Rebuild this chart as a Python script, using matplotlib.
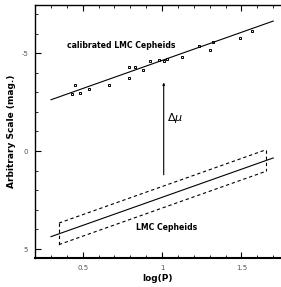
import matplotlib

matplotlib.use('Agg')
import matplotlib.pyplot as plt
from matplotlib.ticker import MultipleLocator

# calibrated LMC Cepheids (log P, magnitude)
cal_logp = [0.434, 0.449, 0.485, 0.542, 0.666, 0.789, 0.791, 0.827, 0.880, 0.922,
            0.978, 1.010, 1.032, 1.128, 1.234, 1.301, 1.323, 1.491, 1.567]
cal_mag = [-2.89, -3.35, -2.94, -3.16, -3.35, -3.71, -4.27, -4.30, -4.15, -4.58,
           -4.66, -4.59, -4.68, -4.81, -5.34, -5.17, -5.55, -5.77, -6.14]

# fitted PL relations: mag = zp + slope * logP
upper_range = [0.30, 1.70]
upper_zp = -1.76
slope = -2.87
lower_range = [0.30, 1.70]
lower_zp = 5.23
band_range = [0.35, 1.654]
band_width = 0.55

# distance modulus arrow (logP, mag from, mag to)
arrow_x = 1.01
arrow_from = 1.21
arrow_to = -3.5

fig = plt.figure(figsize=(2.81, 2.87), dpi=100)
ax = fig.add_axes([0.125, 0.101, 0.87, 0.881])

ax.plot(cal_logp, cal_mag, 's', ms=1.8, mfc='none', mec='black', mew=0.7)
ax.plot(upper_range, [upper_zp + slope * x for x in upper_range], color='black', lw=0.8)

ax.plot(lower_range, [lower_zp + slope * x for x in lower_range], color='black', lw=0.8)
for off in (-band_width, band_width):
    ax.plot(band_range, [lower_zp + off + slope * x for x in band_range],
            color='black', lw=0.8, ls=(0, (3, 2.5)))
for x in band_range:
    m = lower_zp + slope * x
    ax.plot([x, x], [m - band_width, m + band_width], color='black', lw=0.8, ls=(0, (3, 2.5)))

ax.annotate('', xy=(arrow_x, arrow_to), xytext=(arrow_x, arrow_from),
            arrowprops=dict(arrowstyle='-|>', color='black', lw=0.8,
                            mutation_scale=3, shrinkA=0, shrinkB=0))
ax.text(arrow_x + 0.02, -1.7, r'$\Delta\mu$', fontsize=8, va='center', ha='left')

ax.text(0.40, -5.4, 'calibrated LMC Cepheids', fontsize=5.6, fontweight='bold',
        va='center', ha='left')
ax.text(0.835, 3.9, 'LMC Cepheids', fontsize=5.6, fontweight='bold',
        va='center', ha='left')

ax.set_xlim(0.2, 1.74)
ax.set_ylim(5.46, -7.45)
ax.xaxis.set_major_locator(MultipleLocator(0.5))
ax.xaxis.set_minor_locator(MultipleLocator(0.1))
ax.yaxis.set_major_locator(MultipleLocator(5))
ax.yaxis.set_minor_locator(MultipleLocator(1))
ax.set_xticks([0.5, 1, 1.5])
ax.set_xticklabels(['0.5', '1', '1.5'])
ax.set_yticks([-5, 0, 5])
ax.set_yticklabels(['-5', '0', '5'])
ax.tick_params(which='both', direction='in', top=True, right=False, labelsize=5,
               color='black', labelcolor='#555555', pad=5)
ax.tick_params(which='major', length=4, width=0.8)
ax.tick_params(which='minor', length=2, width=0.6)
ax.spines['bottom'].set_linewidth(1.5)
ax.spines['left'].set_linewidth(1.0)
ax.spines['top'].set_linewidth(1.0)
ax.spines['right'].set_visible(False)

ax.set_xlabel('log(P)', fontsize=6.5, fontweight='bold', labelpad=2)
ax.set_ylabel('Arbitrary Scale (mag.)', fontsize=6.5, fontweight='bold', labelpad=4)

fig.savefig('out.png', dpi=100)
